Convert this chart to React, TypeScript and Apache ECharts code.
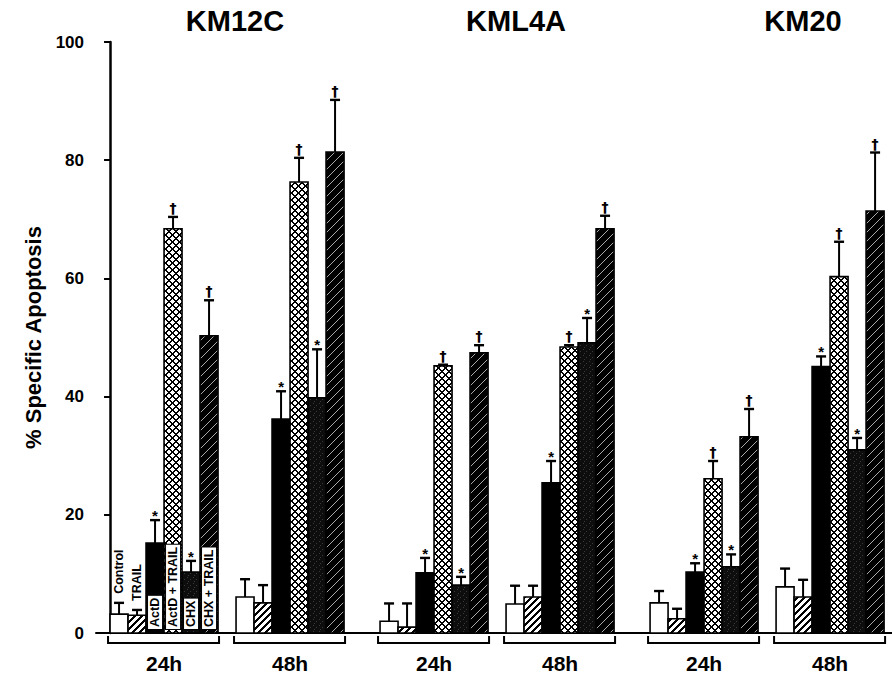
import React, { useEffect, useRef } from 'react';
import * as echarts from 'echarts';

// ---------------- data ----------------
const cellLines = ['KM12C', 'KML4A', 'KM20'];
const timePoints = ['24h', '48h', '24h', '48h', '24h', '48h'];
const treatments = ['Control', 'TRAIL', 'ActD', 'ActD + TRAIL', 'CHX', 'CHX + TRAIL'];

// mean % specific apoptosis per group (KM12C 24h, 48h, KML4A 24h, 48h, KM20 24h, 48h)
const controlMean = [3.2, 6.1, 2.0, 4.9, 5.1, 7.8];
const trailMean = [3.0, 5.1, 1.0, 6.1, 2.4, 6.1];
const actdMean = [15.2, 36.2, 10.2, 25.4, 10.3, 45.1];
const actdTrailMean = [68.4, 76.3, 45.2, 48.4, 26.1, 60.3];
const chxMean = [10.3, 39.8, 8.1, 49.1, 11.2, 31.0];
const chxTrailMean = [50.3, 81.4, 47.4, 68.4, 33.2, 71.4];

// error (SD) per group
const controlSD = [1.9, 3.0, 3.0, 3.1, 2.0, 3.1];
const trailSD = [0.9, 3.0, 4.0, 1.9, 1.7, 2.9];
const actdSD = [3.9, 4.7, 2.5, 3.7, 1.5, 1.7];
const actdTrailSD = [2.0, 4.1, 0.2, 0.3, 3.0, 5.9];
const chxSD = [1.9, 8.2, 1.4, 4.2, 2.1, 2.0];
const chxTrailSD = [6.0, 8.8, 1.3, 2.2, 4.7, 9.9];

const significance = ['', '', '*', '†', '*', '†'];

const yMin = 0;
const yMax = 100;
const yInterval = 20;

// ---------------- layout ----------------
const means = [controlMean, trailMean, actdMean, actdTrailMean, chxMean, chxTrailMean];
const sds = [controlSD, trailSD, actdSD, actdTrailSD, chxSD, chxTrailSD];
const groupStartSlot = [0, 7, 15, 22, 30, 37];
const titleX = [235, 516, 803];
const FONT = '"Liberation Sans", Arial, Helvetica, sans-serif';

function pixelTile(size: number, bg: string, fg: string, isFg: (x: number, y: number) => boolean) {
  const c = document.createElement('canvas');
  c.width = size;
  c.height = size;
  const ctx = c.getContext('2d') as CanvasRenderingContext2D;
  ctx.fillStyle = bg;
  ctx.fillRect(0, 0, size, size);
  ctx.fillStyle = fg;
  for (let y = 0; y < size; y++) {
    for (let x = 0; x < size; x++) {
      if (isFg(x, y)) ctx.fillRect(x, y, 1, 1);
    }
  }
  return { image: c, repeat: 'repeat', imageWidth: size, imageHeight: size };
}

export default function App() {
  const ref = useRef<HTMLDivElement>(null);

  useEffect(() => {
    document.body.style.margin = '0';
    if (!ref.current) return;
    const chart = echarts.init(ref.current, undefined, { renderer: 'svg' });

    const fills: any[] = [
      '#ffffff',
      pixelTile(7, '#ffffff', '#000000', (x, y) => (x + y) % 7 < 3),
      '#000000',
      pixelTile(7, '#ffffff', '#000000', (x, y) => (x + y) % 7 < 2 || (x - y + 7) % 7 < 2),
      pixelTile(6, '#0d0d0d', '#3a3a3a', (x, y) => (x === 1 && y === 1) || (x === 4 && y === 3) || (x === 2 && y === 5)),
      pixelTile(9, '#000000', '#a8a8a8', (x, y) => (x + y) % 9 === 0),
    ];

    const barSeries = treatments.map((name, ti) => ({
      type: 'custom',
      name,
      clip: false,
      encode: { x: 0, y: [1, 2] },
      data: timePoints.map((_, gi) => [
        groupStartSlot[gi] + ti,
        means[ti][gi],
        means[ti][gi] + sds[ti][gi],
        gi,
      ]),
      renderItem: (params: any, api: any) => {
        const slot = api.value(0) as number;
        const mean = api.value(1) as number;
        const top = api.value(2) as number;
        const gi = api.value(3) as number;
        const p0 = api.coord([slot, 0]);
        const p1 = api.coord([slot + 1, mean]);
        const pe = api.coord([slot + 0.5, top]);
        const xL = p0[0];
        const xR = p1[0];
        const y0 = p0[1];
        const yT = p1[1];
        const xc = pe[0];
        const yE = pe[1];
        const children: any[] = [
          {
            type: 'rect',
            shape: { x: xL, y: yT, width: xR - xL, height: y0 - yT },
            style: { fill: fills[ti], stroke: '#000', lineWidth: 1.6 },
          },
          {
            type: 'line',
            shape: { x1: xc, y1: yT, x2: xc, y2: yE },
            style: { stroke: '#000', lineWidth: 2 },
          },
          {
            type: 'line',
            shape: { x1: xc - 5, y1: yE, x2: xc + 5, y2: yE },
            style: { stroke: '#000', lineWidth: 2.4 },
          },
        ];
        const mark = significance[ti];
        if (mark) {
          children.push({
            type: 'text',
            x: xc,
            y: mark === '*' ? yE + 3 : yE - 2,
            style: {
              text: mark,
              fontFamily: mark === '*' ? FONT : '"DejaVu Sans", sans-serif',
              fontWeight: 'bold',
              fontSize: mark === '*' ? 15 : 14,
              fill: '#000',
              align: 'center',
              verticalAlign: 'bottom',
            },
          });
        }
        if (gi === 0) {
          const inside = ti >= 2;
          children.push({
            type: 'text',
            x: xc,
            y: inside ? y0 - 4 : yE - 9,
            rotation: Math.PI / 2,
            style: inside
              ? {
                  text: name,
                  fontFamily: FONT,
                  fontWeight: 'bold',
                  fontSize: 12.5,
                  fill: '#000',
                  align: 'left',
                  verticalAlign: 'middle',
                  backgroundColor: '#fff',
                  borderColor: '#000',
                  borderWidth: 1,
                  padding: [1, 2, 0, 2],
                }
              : {
                  text: name,
                  fontFamily: FONT,
                  fontWeight: 'bold',
                  fontSize: 12.5,
                  fill: '#000',
                  align: 'left',
                  verticalAlign: 'middle',
                },
          });
        }
        return { type: 'group', children };
      },
    }));

    const bracketSeries = {
      type: 'custom',
      name: 'time',
      clip: false,
      silent: true,
      encode: { x: [0, 1], y: 2 },
      data: timePoints.map((_, gi) => [groupStartSlot[gi], groupStartSlot[gi] + 6, 0, gi]),
      renderItem: (params: any, api: any) => {
        const a = api.coord([api.value(0), 0]);
        const b = api.coord([api.value(1), 0]);
        const gi = api.value(3) as number;
        const y0 = a[1];
        return {
          type: 'group',
          children: [
            {
              type: 'polyline',
              shape: {
                points: [
                  [a[0] - 2, y0 + 3],
                  [a[0] - 2, y0 + 10],
                  [b[0] + 1, y0 + 10],
                  [b[0] + 1, y0 + 3],
                ],
              },
              style: { stroke: '#000', lineWidth: 2, fill: 'none' },
            },
            {
              type: 'text',
              x: (a[0] + b[0]) / 2,
              y: y0 + 30,
              style: {
                text: timePoints[gi],
                fontFamily: FONT,
                fontWeight: 'bold',
                fontSize: 21,
                fill: '#000',
                align: 'center',
                verticalAlign: 'middle',
              },
            },
          ],
        };
      },
    };

    const option: any = {
      animation: false,
      backgroundColor: '#fff',
      grid: { left: 96, right: 0, top: 42, bottom: 42 },
      xAxis: {
        type: 'value',
        min: -0.78,
        max: 43.44,
        axisLine: { show: true, onZero: false, lineStyle: { color: '#000', width: 2 } },
        axisTick: { show: false },
        axisLabel: { show: false },
        splitLine: { show: false },
      },
      yAxis: {
        type: 'value',
        min: yMin,
        max: yMax,
        interval: yInterval,
        name: '% Specific Apoptosis',
        nameLocation: 'middle',
        nameRotate: 90,
        nameGap: 40,
        nameTextStyle: { fontFamily: FONT, fontWeight: 'bold', fontSize: 22, color: '#000' },
        axisLine: { show: true, lineStyle: { color: '#000', width: 2.5 } },
        axisTick: { show: true, length: 6, lineStyle: { color: '#000', width: 2 } },
        axisLabel: { fontFamily: FONT, fontWeight: 'bold', fontSize: 17, color: '#000', margin: 12 },
        splitLine: { show: false },
      },
      graphic: cellLines.map((name, i) => ({
        type: 'text',
        x: titleX[i],
        y: 21,
        style: {
          text: name,
          fontFamily: FONT,
          fontWeight: 'bold',
          fontSize: 29,
          fill: '#000',
          align: 'center',
          verticalAlign: 'middle',
        },
      })),
      series: [...barSeries, bracketSeries],
    };

    chart.setOption(option);
    return () => chart.dispose();
  }, []);

  return <div ref={ref} style={{ width: 892, height: 675 }} />;
}
